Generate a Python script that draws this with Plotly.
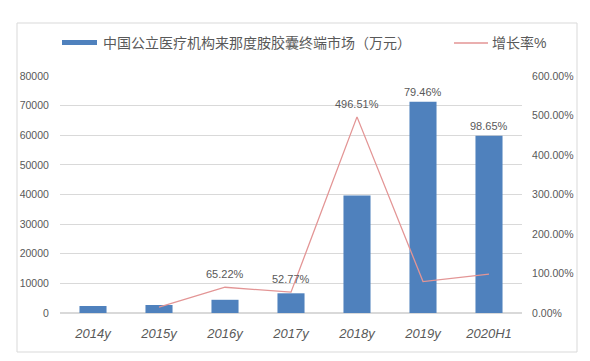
import plotly.graph_objects as go

categories = ["2014y", "2015y", "2016y", "2017y", "2018y", "2019y", "2020H1"]
market = [2360, 2700, 4460, 6650, 39700, 71300, 59800]
growth = [None, 15.0, 65.22, 52.77, 496.51, 79.46, 98.65]
growth_labels = ["", "", "65.22%", "52.77%", "496.51%", "", ""]
bar_labels = ["", "", "", "", "", "79.46%", "98.65%"]
series_names = ["中国公立医疗机构来那度胺胶囊终端市场（万元）", "增长率%"]

GRAY = "#595959"
BLUE = "#4F81BD"
PINK = "#E39595"
FONT = "Liberation Sans, Noto Sans CJK SC, sans-serif"

# plot-area geometry in pixels (used to place the manual legend/border)
L, R, T, B = 60, 68, 76, 48
W, H = 590, 361
PW, PH = W - L - R, H - T - B


def px(x):
    return (x - L) / PW


def py(y):
    return (H - B - y) / PH


fig = go.Figure()
fig.add_trace(go.Bar(
    x=categories, y=market, name=series_names[0],
    marker=dict(color=BLUE, line=dict(width=0)), yaxis="y", showlegend=False,
    hoverinfo="skip",
))
fig.add_trace(go.Scatter(
    x=categories, y=growth, name=series_names[1], mode="lines",
    line=dict(color=PINK, width=1.3), yaxis="y2", showlegend=False,
    hoverinfo="skip",
))

for c, v, t in zip(categories, growth, growth_labels):
    if t:
        fig.add_annotation(x=c, y=v, yref="y2", text=t, showarrow=False,
                           yanchor="bottom", yshift=5,
                           font=dict(size=11, color=GRAY, family=FONT))

for c, v, t in zip(categories, market, bar_labels):
    if t:
        fig.add_annotation(x=c, y=v, yref="y", text=t, showarrow=False,
                           yanchor="bottom", yshift=2,
                           font=dict(size=11, color=GRAY, family=FONT))

# chart border
fig.add_shape(type="rect", xref="paper", yref="paper",
              x0=px(17), x1=px(577), y0=py(352), y1=py(23),
              line=dict(color="#D9D9D9", width=1), layer="below")

# manual legend
fig.add_shape(type="rect", xref="paper", yref="paper",
              x0=px(62), x1=px(97), y0=py(45), y1=py(40),
              fillcolor=BLUE, line=dict(width=0))
fig.add_annotation(xref="paper", yref="paper", x=px(101), y=py(42.5),
                   xanchor="left", yanchor="middle", showarrow=False,
                   text=series_names[0], font=dict(size=14, color=GRAY, family=FONT))
fig.add_shape(type="line", xref="paper", yref="paper",
              x0=px(454), x1=px(488), y0=py(43), y1=py(43),
              line=dict(color=PINK, width=1.5))
fig.add_annotation(xref="paper", yref="paper", x=px(490), y=py(42.5),
                   xanchor="left", yanchor="middle", showarrow=False,
                   text=series_names[1], font=dict(size=14, color=GRAY, family=FONT))

fig.update_layout(
    width=W, height=H,
    margin=dict(l=L, r=R, t=T, b=B, autoexpand=False),
    paper_bgcolor="white", plot_bgcolor="white",
    font=dict(family=FONT, color=GRAY, size=11),
    bargap=0.59,
    showlegend=False,
    hovermode=False,
    xaxis=dict(showgrid=False, showline=False, ticks="outside", ticklen=8,
               tickcolor="rgba(0,0,0,0)",
               tickfont=dict(size=13, color=GRAY, family=FONT, style="italic")),
    yaxis=dict(range=[0, 80000], dtick=10000, tickformat="d",
               gridcolor="#D9D9D9", gridwidth=1, zeroline=True, zerolinecolor="#D9D9D9",
               showline=False, ticks="outside", ticklen=8, tickcolor="rgba(0,0,0,0)",
               tickfont=dict(size=10.5, color=GRAY, family=FONT)),
    yaxis2=dict(range=[0, 600], dtick=100, overlaying="y", side="right",
                tickformat=".2f", ticksuffix="%", showgrid=False, zeroline=False,
                showline=False, ticks="outside", ticklen=7, tickcolor="rgba(0,0,0,0)",
                tickfont=dict(size=10.5, color=GRAY, family=FONT)),
)

fig.write_html("out.html", config={"displayModeBar": False, "staticPlot": True},
               post_script="document.body.style.margin='0px';document.body.style.overflow='hidden';")
